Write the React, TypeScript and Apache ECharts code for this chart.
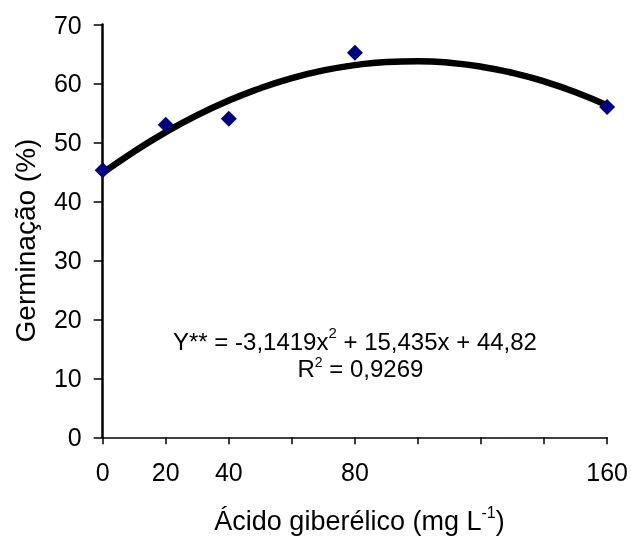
import React, { useEffect, useRef } from "react";
import * as echarts from "echarts";

const doses = [0, 20, 40, 80, 160];
const germinacao = [45.3, 53.0, 54.0, 65.2, 56.0];
const curveX = [0, 10, 20, 30, 40, 50, 60, 70, 80, 90, 100, 110, 120, 130, 140, 150, 160];
const curveY = [44.82, 48.48, 51.75, 54.63, 57.11, 59.2, 60.9, 62.21, 63.12, 63.64, 63.77, 63.51, 62.85, 61.8, 60.35, 58.52, 56.29];
const xLabelsShown = [0, 20, 40, 80, 160];
const yTitle = "Germinação (%)";
const xTitleParts = ["Ácido giberélico (mg L", "-1", ")"];
const equationParts = ["Y** = -3,1419x", "2", " + 15,435x + 44,82"];
const r2Parts = ["R", "2", " = 0,9269"];

const FONT = "Arial, 'Liberation Sans', sans-serif";

let measureCtx: CanvasRenderingContext2D | null = null;
function textWidth(text: string, size: number): number {
  if (!measureCtx) measureCtx = document.createElement("canvas").getContext("2d");
  if (!measureCtx) return text.length * size * 0.55;
  measureCtx.font = `${size}px ${FONT}`;
  return measureCtx.measureText(text).width;
}

// central baseline offset for Arial/Liberation Sans
const CENTRAL = 0.3465;

function supLine(parts: string[], x: number, baseline: number, size: number, supSize: number, supRaise: number, anchor: "left" | "center") {
  const w0 = textWidth(parts[0], size);
  const w1 = textWidth(parts[1], supSize);
  const w2 = textWidth(parts[2], size);
  const total = w0 + w1 + w2;
  const start = anchor === "center" ? x - total / 2 : x;
  const mk = (t: string, px: number, sz: number, base: number) => ({
    type: "text",
    x: px,
    y: base - CENTRAL * sz,
    silent: true,
    style: { text: t, fontFamily: FONT, fontSize: sz, fill: "#000", align: "left", verticalAlign: "middle" },
  });
  return [
    mk(parts[0], start, size, baseline),
    mk(parts[1], start + w0, supSize, baseline - supRaise),
    mk(parts[2], start + w0 + w1, size, baseline),
  ];
}

export default function App() {
  const ref = useRef<HTMLDivElement>(null);
  useEffect(() => {
    if (!ref.current) return;
    const chart = echarts.init(ref.current, null, { renderer: "svg" });
    const yTitleSize = 28;
    chart.setOption({
      animation: false,
      grid: { left: 102.7, right: 18.3, top: 24.5, bottom: 98.7, containLabel: false },
      xAxis: {
        type: "value",
        min: 0,
        max: 160,
        interval: 20,
        splitLine: { show: false },
        axisLine: { show: true, onZero: false, lineStyle: { color: "#000", width: 1.5 } },
        axisTick: { show: true, inside: false, length: 7, lineStyle: { color: "#000", width: 1.5 } },
        axisLabel: {
          margin: 22.5,
          color: "#000",
          fontFamily: FONT,
          fontSize: 25,
          formatter: (v: number) => (xLabelsShown.includes(v) ? String(v) : ""),
        },
      },
      yAxis: {
        type: "value",
        min: 0,
        max: 70,
        interval: 10,
        splitLine: { show: false },
        axisLine: { show: true, lineStyle: { color: "#000", width: 2.5 } },
        axisTick: { show: true, inside: false, length: 9, lineStyle: { color: "#000", width: 1.5 } },
        axisLabel: { margin: 21, color: "#000", fontFamily: FONT, fontSize: 25 },
      },
      series: [
        {
          type: "line",
          data: curveX.map((x, i) => [x, curveY[i]]),
          smooth: true,
          showSymbol: false,
          lineStyle: { color: "#000", width: 6.5 },
          z: 2,
        },
        {
          type: "scatter",
          data: doses.map((x, i) => [x, germinacao[i]]),
          symbol: "diamond",
          symbolSize: [16, 16],
          itemStyle: { color: "#000080", opacity: 1 },
          z: 3,
        },
      ],
      graphic: [
        {
          type: "text",
          x: 35 - CENTRAL * yTitleSize,
          y: 240.5,
          rotation: Math.PI / 2,
          silent: true,
          style: { text: yTitle, fontFamily: FONT, fontSize: yTitleSize, fill: "#000", align: "center", verticalAlign: "middle" },
        },
        ...supLine(xTitleParts, 359.5, 530, 27, 16, 12, "center"),
        ...supLine(equationParts, 173, 350, 24, 15, 12.5, "left"),
        ...supLine(r2Parts, 297.5, 377, 24, 14, 10.5, "left"),
      ],
    });
    return () => chart.dispose();
  }, []);
  return <div ref={ref} style={{ position: "fixed", left: 0, top: 0, width: 631, height: 536 }} />;
}
